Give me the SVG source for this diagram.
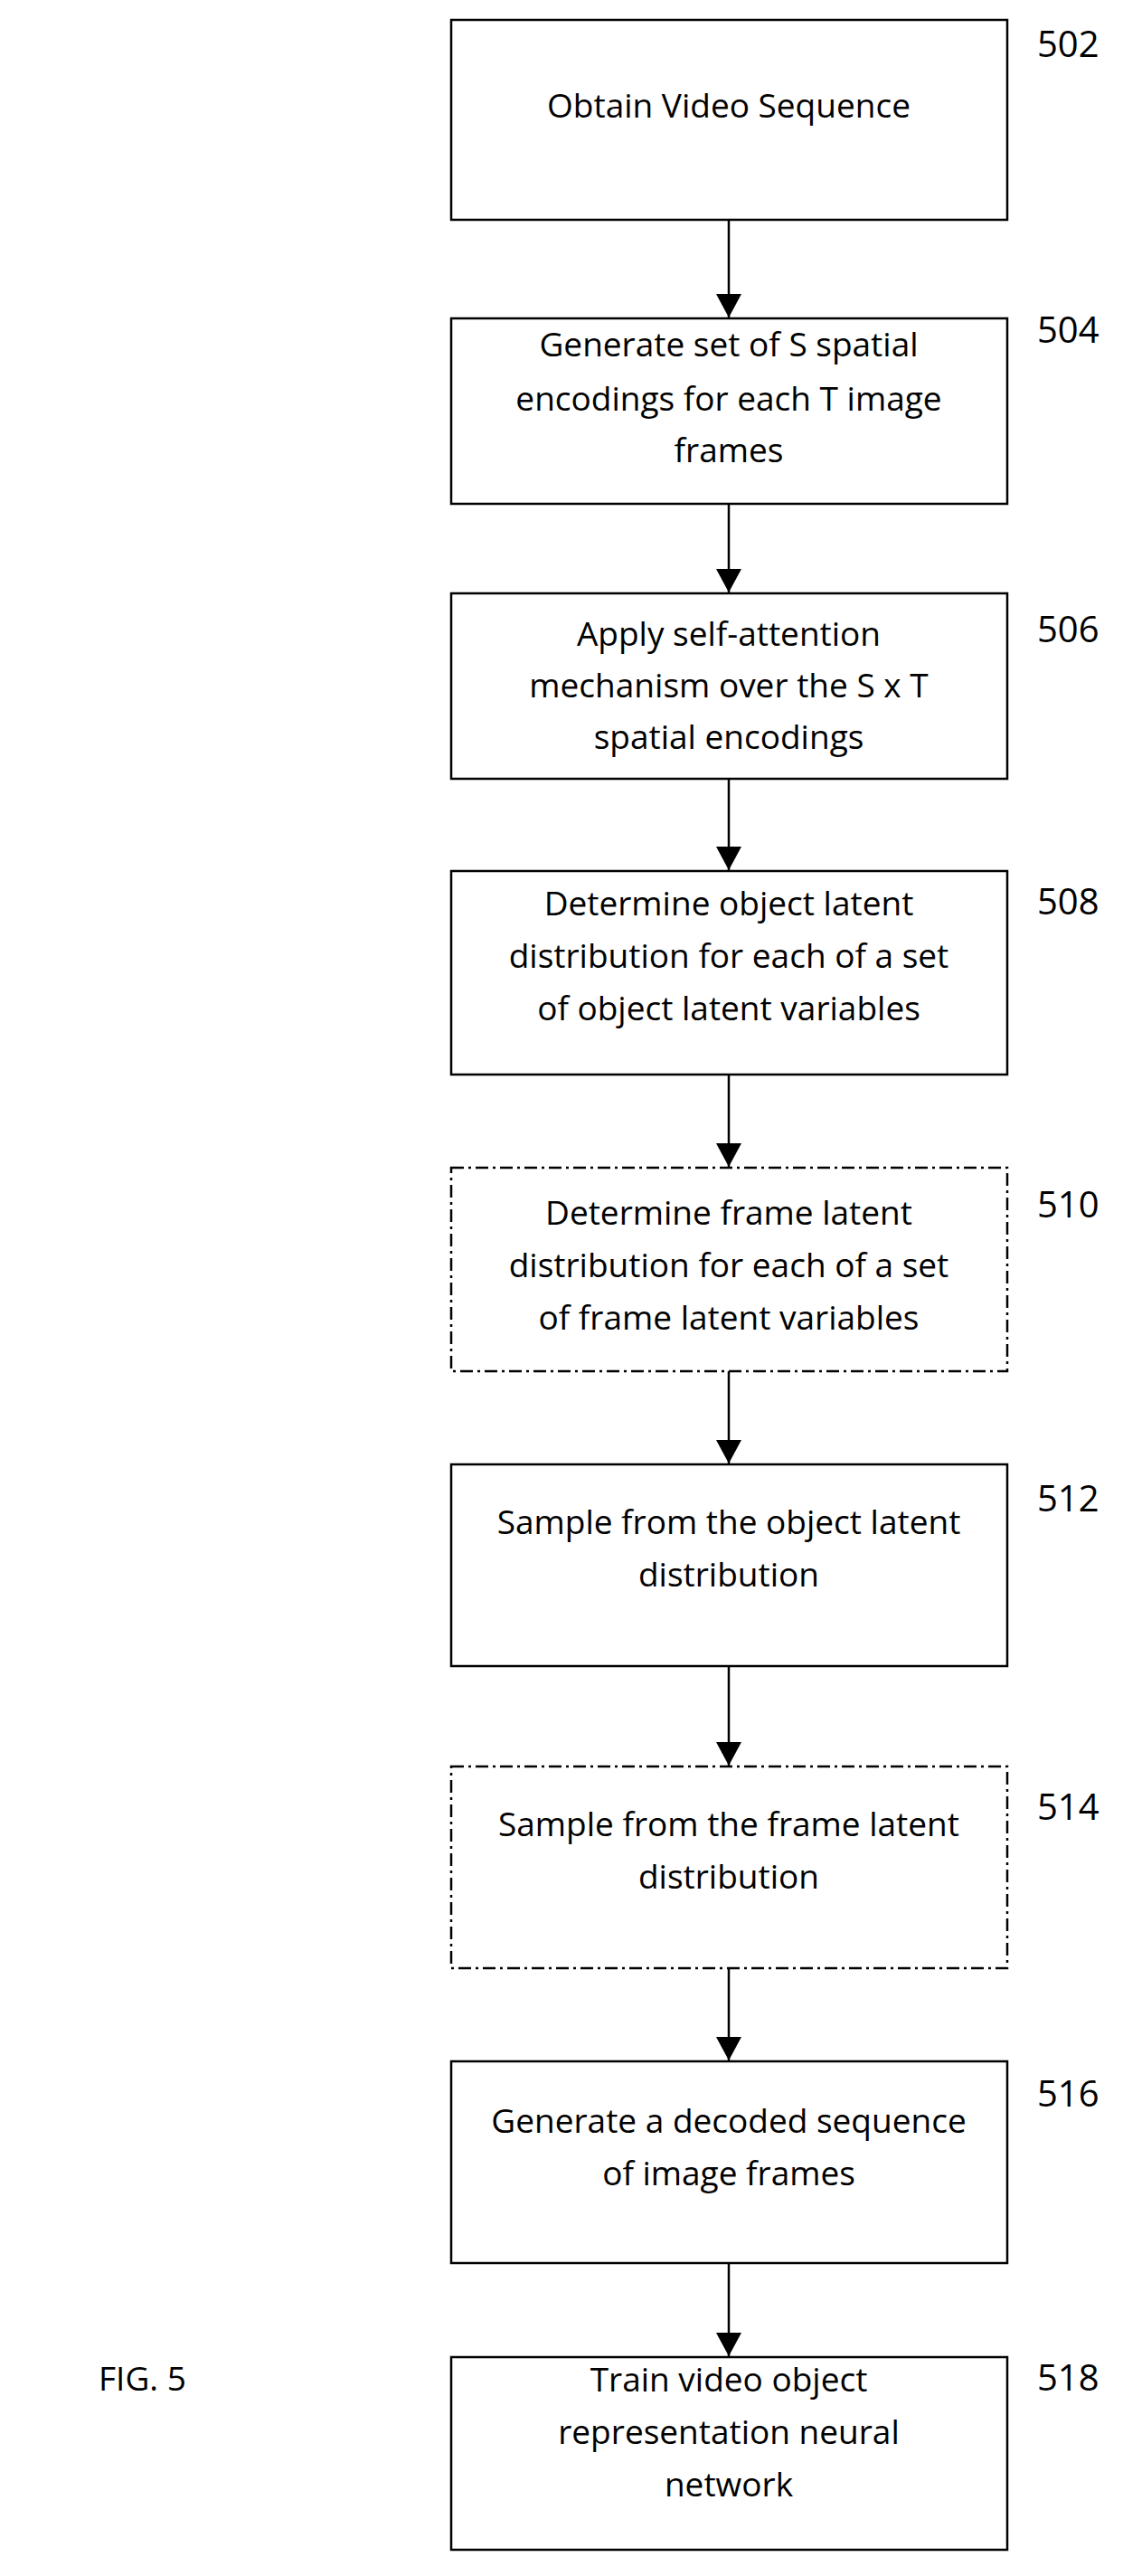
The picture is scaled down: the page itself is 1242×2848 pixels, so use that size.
<svg xmlns="http://www.w3.org/2000/svg" width="1242" height="2848" viewBox="0 0 1242 2848">
<style>
.b{fill:#fff;stroke:#000;stroke-width:2.5}
.d{fill:#fff;stroke:#000;stroke-width:2.5;stroke-dasharray:14 5 3 5}
text{font-family:"Open Sans","Liberation Sans",sans-serif;font-size:37px;fill:#000}
.l{font-size:40px}
.c{text-anchor:middle}
.e{stroke:#000;stroke-width:2.5;fill:none;marker-end:url(#a)}
</style>
<defs><marker id="a" markerUnits="userSpaceOnUse" markerWidth="26" markerHeight="28" refX="26" refY="14" orient="auto" viewBox="0 0 26 28"><path d="M0 0L26 14L0 28Z" fill="#000"/></marker></defs>
<g id="connectors">
<line class="e" x1="806" y1="243" x2="806" y2="351"/>
<line class="e" x1="806" y1="557" x2="806" y2="655"/>
<line class="e" x1="806" y1="861" x2="806" y2="962"/>
<line class="e" x1="806" y1="1188" x2="806" y2="1290"/>
<line class="e" x1="806" y1="1516" x2="806" y2="1618"/>
<line class="e" x1="806" y1="1842" x2="806" y2="1952"/>
<line class="e" x1="806" y1="2176" x2="806" y2="2278"/>
<line class="e" x1="806" y1="2502" x2="806" y2="2605"/>
</g>
<g id="n502"><rect class="b" x="499" y="22" width="615" height="221"/><text class="c" x="806" y="130">Obtain Video Sequence</text><text class="l" x="1147" y="63">502</text></g>
<g id="n504"><rect class="b" x="499" y="352" width="615" height="205"/><text class="c" x="806" y="394">Generate set of S spatial</text><text class="c" x="806" y="454">encodings for each T image</text><text class="c" x="806" y="511">frames</text><text class="l" x="1147" y="379">504</text></g>
<g id="n506"><rect class="b" x="499" y="656" width="615" height="205"/><text class="c" x="806" y="714">Apply self-attention</text><text class="c" x="806" y="771">mechanism over the S x T</text><text class="c" x="806" y="828">spatial encodings</text><text class="l" x="1147" y="710">506</text></g>
<g id="n508"><rect class="b" x="499" y="963" width="615" height="225"/><text class="c" x="806" y="1012">Determine object latent</text><text class="c" x="806" y="1070">distribution for each of a set</text><text class="c" x="806" y="1128">of object latent variables</text><text class="l" x="1147" y="1011">508</text></g>
<g id="n510"><rect class="d" x="499" y="1291" width="615" height="225"/><text class="c" x="806" y="1354">Determine frame latent</text><text class="c" x="806" y="1412">distribution for each of a set</text><text class="c" x="806" y="1470">of frame latent variables</text><text class="l" x="1147" y="1346">510</text></g>
<g id="n512"><rect class="b" x="499" y="1619" width="615" height="223"/><text class="c" x="806" y="1696">Sample from the object latent</text><text class="c" x="806" y="1754">distribution</text><text class="l" x="1147" y="1671">512</text></g>
<g id="n514"><rect class="d" x="499" y="1953" width="615" height="223"/><text class="c" x="806" y="2030">Sample from the frame latent</text><text class="c" x="806" y="2088">distribution</text><text class="l" x="1147" y="2012">514</text></g>
<g id="n516"><rect class="b" x="499" y="2279" width="615" height="223"/><text class="c" x="806" y="2358">Generate a decoded sequence</text><text class="c" x="806" y="2416">of image frames</text><text class="l" x="1147" y="2329">516</text></g>
<g id="n518"><rect class="b" x="499" y="2606" width="615" height="213"/><text class="c" x="806" y="2644">Train video object</text><text class="c" x="806" y="2702">representation neural</text><text class="c" x="806" y="2760">network</text><text class="l" x="1147" y="2643">518</text></g>
<text x="109" y="2643">FIG. 5</text>
</svg>
